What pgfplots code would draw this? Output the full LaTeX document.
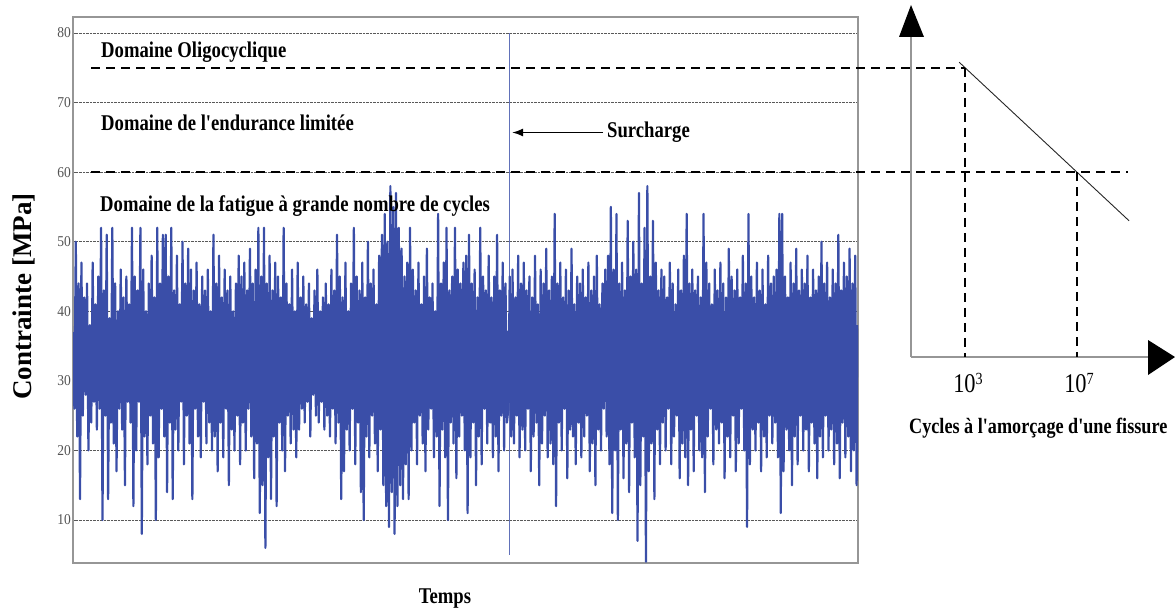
\documentclass[border=0pt]{standalone}
\usepackage{pgfplots}
\pgfplotsset{compat=1.18}
\usepackage{pgfplotstable}
\usepackage{fontspec}
\setmainfont{Liberation Serif}
\newfontfamily\lab[FakeStretch=0.83]{Liberation Serif}
\newfontfamily\tlab[FakeStretch=0.9]{Liberation Serif}
\usetikzlibrary{arrows.meta}
\definecolor{sig}{RGB}{58,78,168}
\definecolor{axgray}{RGB}{150,150,150}

% signal (one value per sample, plotted against sample index)
\pgfplotstableread[row sep=\\]{
v\\
35\\26\\50\\22\\44\\13\\47\\25\\42\\28\\44\\20\\38\\24\\47\\27\\41\\23\\45\\26\\
52\\10\\43\\25\\51\\13\\39\\24\\52\\21\\44\\17\\40\\26\\46\\23\\42\\15\\45\\27\\
41\\24\\52\\12\\45\\20\\43\\27\\52\\8\\46\\22\\40\\18\\44\\25\\48\\21\\42\\10\\
52\\19\\44\\26\\51\\22\\51\\14\\45\\24\\52\\13\\43\\23\\48\\20\\41\\27\\50\\18\\
44\\25\\49\\21\\46\\13\\43\\26\\47\\22\\41\\19\\45\\27\\43\\21\\46\\24\\40\\20\\
51\\22\\44\\17\\48\\24\\42\\19\\46\\26\\43\\15\\45\\23\\40\\20\\44\\25\\48\\18\\
45\\24\\47\\20\\43\\26\\49\\22\\44\\16\\46\\21\\52\\11\\45\\15\\52\\6\\44\\19\\
48\\13\\43\\22\\47\\12\\45\\24\\42\\20\\52\\17\\44\\25\\41\\21\\46\\23\\40\\19\\
47\\23\\42\\26\\45\\24\\41\\27\\44\\22\\39\\28\\43\\25\\46\\24\\40\\27\\42\\23\\
44\\25\\41\\22\\46\\26\\43\\21\\51\\24\\45\\13\\42\\17\\47\\23\\40\\20\\44\\26\\
52\\18\\45\\24\\43\\14\\47\\10\\42\\22\\50\\19\\44\\25\\46\\21\\41\\17\\48\\23\\
51\\15\\54\\12\\50\\9\\58\\14\\55\\8\\57\\12\\52\\15\\49\\13\\45\\18\\47\\13\\
52\\20\\46\\24\\43\\18\\47\\25\\41\\21\\45\\17\\49\\23\\42\\26\\44\\19\\40\\22\\
54\\12\\44\\23\\47\\19\\52\\10\\43\\24\\45\\21\\52\\16\\46\\22\\44\\25\\47\\20\\
48\\11\\51\\19\\44\\24\\46\\15\\42\\22\\52\\18\\45\\26\\43\\21\\48\\24\\42\\19\\
45\\22\\51\\17\\43\\25\\47\\20\\44\\24\\26\\45\\22\\46\\21\\42\\25\\48\\19\\44\\
23\\47\\20\\43\\26\\45\\17\\42\\22\\48\\24\\41\\15\\46\\21\\44\\25\\49\\19\\43\\
21\\45\\18\\54\\12\\44\\24\\47\\20\\42\\26\\46\\16\\43\\23\\49\\22\\41\\18\\45\\
24\\44\\19\\46\\22\\42\\25\\47\\17\\43\\21\\45\\15\\48\\23\\41\\20\\44\\26\\46\\
22\\48\\18\\55\\11\\46\\20\\54\\10\\44\\23\\47\\16\\43\\21\\53\\14\\45\\24\\50\\
19\\46\\7\\57\\15\\44\\22\\52\\4\\58\\17\\45\\21\\53\\13\\47\\23\\43\\18\\46\\
24\\45\\20\\42\\26\\47\\18\\44\\22\\41\\25\\46\\16\\43\\21\\48\\19\\54\\15\\44\\
23\\46\\17\\43\\25\\45\\20\\42\\19\\54\\14\\47\\22\\44\\26\\41\\18\\46\\23\\43\\
21\\47\\24\\44\\16\\42\\22\\49\\19\\45\\25\\43\\17\\46\\21\\42\\26\\48\\20\\44\\
9\\54\\18\\45\\23\\42\\20\\47\\24\\43\\17\\46\\22\\41\\19\\48\\25\\44\\21\\45\\
24\\46\\19\\54\\11\\54\\17\\45\\23\\42\\20\\47\\15\\44\\22\\49\\18\\43\\25\\46\\
20\\44\\23\\48\\17\\42\\24\\46\\21\\43\\16\\45\\22\\50\\19\\44\\25\\47\\20\\42\\
23\\46\\18\\44\\21\\51\\16\\43\\24\\47\\19\\45\\22\\49\\17\\44\\20\\48\\15\\38\\
}\sigdata

\begin{document}
\begin{tikzpicture}
\path[use as bounding box] (0pt,0pt) rectangle (1175pt,-610pt);

\begin{axis}[
  at={(73pt,-563pt)}, anchor=south west,
  scale only axis, width=785pt, height=546pt,
  xmin=0, xmax=559, ymin=3.819, ymax=82.30,
  xtick=\empty, ytick={10,20,...,80},
  ymajorgrids,
  major grid style={densely dotted, gray!70!black, line width=0.7pt},
  axis line style={axgray, line width=1.2pt},
  tick style={gray!70!black, line width=0.8pt}, tick align=inside, major tick length=3pt,
  ytick pos=left,
  /pgf/number format/assume math mode=true,
  yticklabel style={font=\tlab\fontsize{15}{15}\selectfont, text=gray!65!black, inner sep=2pt},
  clip=true,
]
% overload ("Surcharge") peak
\addplot[sig!80, line width=1pt] coordinates {(311,80) (311,5)};
% dense core of the signal (envelope of the solid band)
\addplot[fill=sig, draw=none] coordinates {
 (0,37) (20,38) (40,36.5) (60,38) (80,37) (100,37.5) (120,38.5) (140,36.5) (160,36)
 (180,37.5) (200,36.5) (220,38) (240,38.5) (260,37) (280,37.5) (300,36.5) (320,38) (340,37)
 (360,38.5) (380,37.5) (400,36.5) (420,38) (440,37) (460,37.5) (480,38.5) (500,37) (520,37.5)
 (540,36.5) (559,37.5)
 (559,30.5) (540,29.5) (520,31) (500,30) (480,30.5) (460,29) (440,30.5) (420,30) (400,31)
 (380,30.5) (360,29.5) (340,31) (320,30) (300,30.5) (280,29.5) (260,31) (240,30) (220,28.5)
 (200,29.5) (180,31) (160,30) (140,30.5) (120,29) (100,30.5) (80,31.5) (60,30) (40,31)
 (20,29.5) (0,30.5)};
\addplot[sig, line width=2.2pt, line join=round] table[x expr=\coordindex, y=v] {\sigdata};
\end{axis}

% S-N diagram: x = log10(cycles), same stress scale
\begin{axis}[
  at={(911pt,-357pt)}, anchor=south west,
  scale only axis, width=264pt, height=352pt,
  xmin=1.071, xmax=10.5, ymin=33.42, ymax=84.02,
  axis lines=none, clip=false,
]
\addplot[black!85, line width=0.9pt] coordinates {(2.79,75.8) (8.86,53.0)};
\end{axis}

% axes of the S-N diagram
\draw[axgray, line width=1.2pt] (911pt,-357pt) -- (911pt,-37pt);
\draw[axgray, line width=1.2pt] (911pt,-357pt) -- (1148pt,-357pt);
\fill[black] (899pt,-37pt) -- (924pt,-37pt) -- (911pt,-5pt) -- cycle;
\fill[black] (1148pt,-340pt) -- (1148pt,-375pt) -- (1175pt,-357pt) -- cycle;

% dashed limits
\begin{scope}[black, line width=2.4pt, dash pattern=on 9pt off 6pt]
\draw (91pt,-67.8pt) -- (965pt,-67.8pt);
\draw (91pt,-172.1pt) -- (1128pt,-172.1pt);
\draw (965pt,-67.8pt) -- (965pt,-357pt);
\draw (1077pt,-172.1pt) -- (1077pt,-357pt);
\end{scope}

% texts
\tikzset{lbl/.style={inner sep=0pt, font=\lab\bfseries\fontsize{22.5}{27}\selectfont}}
\node[lbl, anchor=base west] at (101pt,-58pt) {Domaine Oligocyclique};
\node[lbl, anchor=base west] at (101pt,-130pt) {Domaine de l'endurance limitée};
\node[lbl, anchor=base west] at (100pt,-211.5pt) {Domaine de la fatigue à grande nombre de cycles};
\node[lbl, anchor=base west] at (607pt,-137pt) {Surcharge};
\draw[-{Latex[length=11pt,width=8pt]}, line width=1.7pt] (603pt,-132.5pt) -- (512pt,-132.5pt);
\node[lbl, anchor=base west, font=\lab\bfseries\fontsize{21.9}{26}\selectfont] at (909pt,-433pt) {Cycles à l'amorçage d'une fissure};
\node[lbl, anchor=base] at (445pt,-603pt) {Temps};
\node[inner sep=0pt, anchor=base, rotate=90, font=\bfseries\fontsize{27}{30}\selectfont] at (31.5pt,-296.5pt) {Contrainte [MPa]};
\node[inner sep=0pt, anchor=base, font=\lab\fontsize{27}{30}\selectfont] at (968pt,-392pt)
  {10\raisebox{0.6ex}{\fontsize{17}{17}\selectfont 3}};
\node[inner sep=0pt, anchor=base, font=\lab\fontsize{27}{30}\selectfont] at (1079pt,-392pt)
  {10\raisebox{0.6ex}{\fontsize{17}{17}\selectfont 7}};
\end{tikzpicture}
\end{document}
